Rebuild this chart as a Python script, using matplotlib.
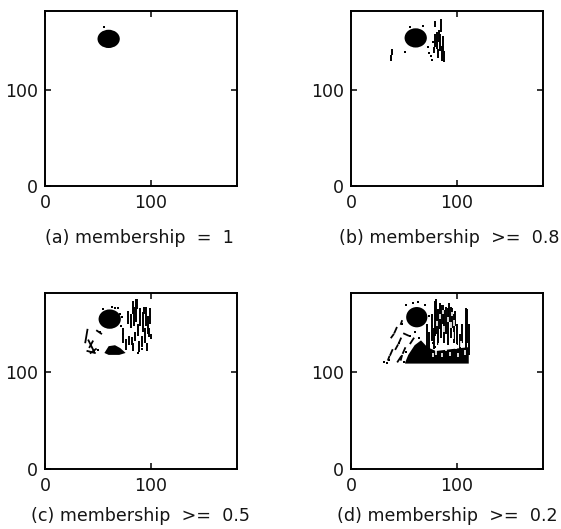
import matplotlib
matplotlib.use("Agg")
import matplotlib.pyplot as plt
from matplotlib.patches import Ellipse, Polygon

W, H = 561, 529

# panel captions and where they start (pixels)
captions = ["(a) membership  =  1", "(b) membership  >=  0.8", "(c) membership  >=  0.5", "(d) membership  >=  0.2"]
caption_x = [45, 339, 31, 337]
caption_y = [238, 238, 516, 516]
boxes = [(45, 11, 237, 186), (351, 11, 543, 186), (45, 293, 237, 469), (351, 293, 543, 469)]

# main dark blob, centre and size, per panel
blob_x = [60, 61, 61, 62]
blob_y = [153, 154, 155, 157]
blob_w = [21, 21, 21, 20]
blob_h = [19, 20, 20, 21]

# isolated dots
dots_a_x = [56]
dots_a_y = [165]
dots_b_x = [51, 56, 68, 73, 74, 75, 76, 77]
dots_b_y = [139, 165, 166, 145, 138, 135, 131, 150]
dots_c_x = [52, 55, 63, 69, 73, 72, 46, 50, 88, 91, 66, 71, 74]
dots_c_y = [142, 165, 168, 167, 157, 148, 122, 123, 120, 124, 167, 160, 140]
dots_d_x = [52, 58, 63, 70, 74, 48, 56, 64, 76, 77, 79, 52, 36, 34, 60, 31, 45, 50]
dots_d_y = [170, 172, 173, 170, 158, 150, 138, 135, 148, 130, 126, 121, 113, 110, 142, 111, 130, 111]

# short slanted strokes on the left side: x0, y0, x1, y1
stroke_c_x0 = [38, 49, 41, 48, 45, 40]
stroke_c_y0 = [131, 143, 133, 124, 132, 122]
stroke_c_x1 = [40, 53, 46, 43, 42, 47]
stroke_c_y1 = [144, 140, 122, 120, 126, 120]
stroke_d_x0 = [38, 41, 42, 45, 35, 37, 47, 50, 47, 49, 44, 56]
stroke_d_y0 = [136, 141, 124, 130, 113, 118, 150, 140, 113, 120, 111, 130]
stroke_d_x1 = [40, 43, 44, 47, 36, 39, 48, 54, 48, 51, 47, 59]
stroke_d_y1 = [139, 146, 128, 135, 116, 123, 153, 138, 117, 125, 116, 135]

# vertical dashes: x, bottom y, top y
dash_b_x = [78, 79, 81, 82, 83, 84, 85, 86, 87, 88, 79, 38, 39]
dash_b_y0 = [138, 145, 143, 133, 150, 140, 160, 130, 140, 129, 165, 130, 136]
dash_b_y1 = [145, 158, 160, 142, 162, 158, 174, 146, 156, 140, 172, 136, 142]

dash_c_x = [74, 76, 78, 79, 81, 82, 83, 84, 85, 86, 88, 89, 90, 91, 92, 94, 95, 96, 97, 98, 99, 100, 83, 87, 93]
dash_c_y0 = [130, 123, 150, 128, 146, 128, 122, 148, 132, 152, 138, 121, 148, 126, 142, 130, 148, 122, 140, 136, 150, 134, 160, 165, 160]
dash_c_y1 = [146, 134, 163, 138, 160, 136, 130, 168, 142, 176, 150, 132, 166, 138, 162, 146, 168, 130, 158, 146, 166, 140, 174, 176, 168]

dash_d_x = [72, 74, 76, 78, 79, 80.5, 82, 83.5, 85, 86.5, 88, 89.5, 91, 92.5, 94, 95.5, 97, 98.5, 100,
            103, 105, 108, 109.5, 111]
dash_d_y0 = [124, 118, 132, 124, 138, 140, 128, 145, 135, 150, 130, 140, 128, 152, 135, 146, 130, 148, 128,
             122, 130, 118, 130, 118]
dash_d_y1 = [150, 142, 160, 146, 174, 176, 165, 172, 170, 170, 164, 168, 166, 172, 168, 166, 160, 163, 150,
             140, 150, 166, 165, 150]

# white specks over the dark mass in (d)
gap_x = [80, 83, 86, 90, 93, 96, 99, 101, 104, 107, 94, 88, 84, 91, 97, 87, 81, 95, 77]
gap_y0 = [118, 124, 116, 122, 117, 134, 124, 116, 126, 118, 146, 142, 155, 152, 148, 160, 148, 158, 116]
gap_y1 = [124, 130, 120, 127, 121, 142, 129, 120, 132, 123, 152, 148, 160, 157, 154, 164, 153, 162, 120]

# lower dark wedge outlines
wedge_c_x = [56, 60, 66, 71, 76, 70, 60]
wedge_c_y = [120, 127, 128, 125, 120, 118, 118]
wedge_d_x = [51, 54, 60, 66, 72, 80, 95, 111, 111, 51]
wedge_d_y = [110, 118, 128, 133, 126, 122, 124, 126, 109, 109]

panel_dots = [(dots_a_x, dots_a_y), (dots_b_x, dots_b_y), (dots_c_x, dots_c_y), (dots_d_x, dots_d_y)]
panel_dash = [None, (dash_b_x, dash_b_y0, dash_b_y1), (dash_c_x, dash_c_y0, dash_c_y1), (dash_d_x, dash_d_y0, dash_d_y1)]
panel_wedge = [None, None, (wedge_c_x, wedge_c_y), (wedge_d_x, wedge_d_y)]
panel_stroke = [None, None, (stroke_c_x0, stroke_c_y0, stroke_c_x1, stroke_c_y1),
                (stroke_d_x0, stroke_d_y0, stroke_d_x1, stroke_d_y1)]

fig = plt.figure(figsize=(W / 100, H / 100), dpi=100)
ink = "black"

for i in range(4):
    l, t, r, b = boxes[i]
    ax = fig.add_axes([l / W, 1 - b / H, (r - l) / W, (b - t) / H])
    ax.set_xlim(0, 181)
    ax.set_ylim(0, 182)

    ax.add_patch(Ellipse((blob_x[i], blob_y[i]), blob_w[i], blob_h[i], color=ink, lw=0))
    ax.scatter(panel_dots[i][0], panel_dots[i][1], s=4, marker="s", color=ink, lw=0)
    if panel_wedge[i] is not None:
        ax.add_patch(Polygon(list(zip(*panel_wedge[i])), color=ink, lw=0))
    if panel_dash[i] is not None:
        ax.vlines(panel_dash[i][0], panel_dash[i][1], panel_dash[i][2], color=ink, lw=1.4)
    if panel_stroke[i] is not None:
        x0, y0, x1, y1 = panel_stroke[i]
        for k in range(len(x0)):
            ax.plot([x0[k], x1[k]], [y0[k], y1[k]], color=ink, lw=1.3)
    if i == 3:
        ax.vlines(gap_x, gap_y0, gap_y1, color="white", lw=1.2)

    ax.set_xticks([0, 100])
    ax.set_yticks([0, 100])
    ax.tick_params(which="both", direction="in", top=True, right=True, length=4, width=1.1,
                   labelsize=12.5, color=ink, labelcolor="#151515")
    ax.tick_params(axis="x", pad=6)
    ax.tick_params(axis="y", pad=5)
    for s in ax.spines.values():
        s.set_linewidth(1.4)
        s.set_color(ink)

    fig.text(caption_x[i] / W, 1 - caption_y[i] / H, captions[i], fontsize=12.6, color="#151515",
             ha="left", va="center")

fig.savefig("out.png", dpi=100)
